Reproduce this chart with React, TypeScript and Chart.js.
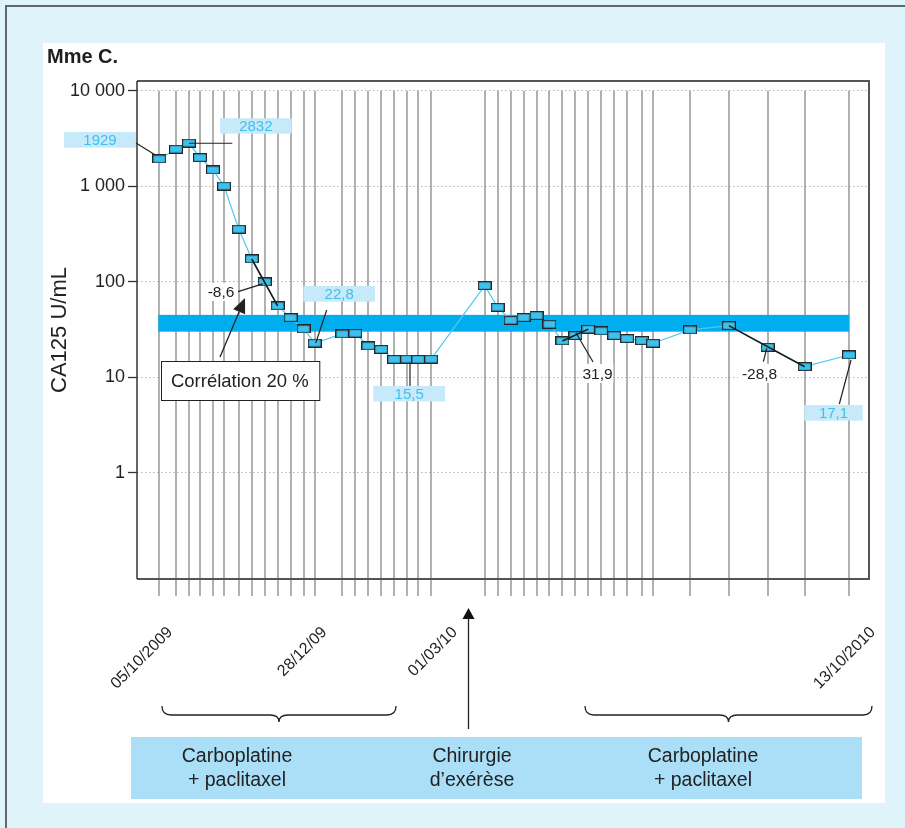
import { useEffect, useRef } from 'react';
import { Chart, registerables } from 'chart.js';

Chart.register(...registerables);

// CA125 sampling dates (dd/mm/yyyy)
const sampleDates = [
  '05/10/2009', '14/10/2009', '21/10/2009', '27/10/2009', '03/11/2009', '09/11/2009', '17/11/2009',
  '24/11/2009', '01/12/2009', '08/12/2009', '15/12/2009', '22/12/2009', '28/12/2009',
  '12/01/2010', '19/01/2010', '26/01/2010', '02/02/2010', '09/02/2010', '16/02/2010', '22/02/2010', '01/03/2010',
  '30/03/2010', '06/04/2010', '13/04/2010', '20/04/2010', '27/04/2010', '04/05/2010', '11/05/2010',
  '18/05/2010', '25/05/2010', '01/06/2010', '08/06/2010', '15/06/2010', '23/06/2010', '29/06/2010',
  '19/07/2010', '09/08/2010', '30/08/2010', '19/09/2010', '13/10/2010',
];

// CA125 in U/mL, one value per sample
const ca125 = [
  1929, 2440, 2832, 1990, 1480, 1005, 355, 173, 99.5, 55.8, 42, 32, 22.8,
  28.4, 28.9, 21.3, 19.6, 15.4, 15.5, 15.4, 15.5,
  91, 54, 39.5, 42.1, 44.2, 35.9, 24, 27.3, 31.9, 30.5, 27.3, 25.4, 24.2, 22.7,
  31.3, 34.7, 20.6, 12.9, 17.1,
];

// Dates printed under the axis, and the sample each one belongs to
const axisDateIndex = [0, 12, 20, 39];
const axisDateText = ['05/10/2009', '28/12/09', '01/03/10', '13/10/2010'];

// Logarithmic axis
const yTickValues = [1, 10, 100, 1000, 10000];
const yTickText = ['1', '10', '100', '1 000', '10 000'];

// Normal range drawn as a band across the follow-up
const normalBand = [30, 45];

// Kinetic segments (first / last sample) and their slope
const slopeFrom = [7, 27, 36];
const slopeTo = [9, 29, 38];
const slopeText = ['-8,6', '31,9', '-28,8'];

// Samples whose value is written next to them
const valueIndex = [0, 2, 12, 18, 39];

// Treatment sequence
const phaseText = [
  ['Carboplatine', '+ paclitaxel'],
  ['Chirurgie', 'd’exérèse'],
  ['Carboplatine', '+ paclitaxel'],
];
const correlationText = 'Corrélation 20 %';
const patientText = 'Mme C.';
const yTitle = 'CA125 U/mL';

// ---- layout ----
const FONT = '"Liberation Sans", Arial, Helvetica, sans-serif';
const W = 905;
const H = 828;
const AREA = { left: 137, right: 869, top: 81, bottom: 579 };
const X_MIN = -12.06;
const X_MAX = 383.8;
const Y_MIN = 0.0772;
const Y_MAX = 12637;

// callout boxes: [dx, dy, w, h] from the sample, leader endpoints as offsets
const valueLayout = [
  { box: [-95.3, -27, 72, 15.7], leader: [[-23.3, -16], [-4, -4]] },
  { box: [31.1, -24.8, 71.7, 15.4], leader: [[0, 0.2], [43.4, 0.2]] },
  { box: [-11.3, -57.1, 71.7, 15.7], leader: [[12.1, -33.1], [1.1, 0]] },
  { box: [-33.8, 26.9, 71.7, 15.5], leader: [[2.9, 4.5], [2.9, 26.9]] },
  { box: [-44.7, 50, 58.4, 15.7], leader: [[2, 5], [-9.7, 49]] },
];
const slopeLayout = [
  { box: [-59.7, 1, 32, 18], leader: [[-26.7, 9.7], [-2, 2]] },
  { box: [6.4, 28.4, 31.6, 19], leader: [[17.7, 26.4], [0.7, -2.6]] },
  { box: [-29.6, 16.7, 43, 19], leader: [[-4.3, 14.4], [-0.9, 1]] },
];
const correlationLayout = { box: [-104, 79, 158.3, 39], arrow: [[-44.7, 75], [-19.7, 16]] };
const dateNudge = [14, 13, 27, 27];
const phaseCenters = [237, 472, 703];

function dayOf(s: string): number {
  const [d, m, y] = s.split('/').map(Number);
  const [d0, m0, y0] = sampleDates[0].split('/').map(Number);
  return Math.round((Date.UTC(y, m - 1, d) - Date.UTC(y0, m0 - 1, d0)) / 86400000);
}

const days = sampleDates.map(dayOf);
const fmt = (v: number) => String(v).replace('.', ',');

function makeMarker(): HTMLCanvasElement {
  const c = document.createElement('canvas');
  c.width = 14;
  c.height = 9;
  const g = c.getContext('2d')!;
  g.fillStyle = '#3cc2ee';
  g.fillRect(1, 1, 12, 7);
  g.strokeStyle = '#262626';
  g.lineWidth = 1.2;
  g.strokeRect(0.6, 0.6, 12.8, 7.8);
  return c;
}

function polyline(ctx: CanvasRenderingContext2D, pts: number[][]) {
  ctx.beginPath();
  ctx.moveTo(pts[0][0], pts[0][1]);
  for (let i = 1; i < pts.length; i++) ctx.lineTo(pts[i][0], pts[i][1]);
  ctx.stroke();
}

function arrow(ctx: CanvasRenderingContext2D, x0: number, y0: number, x1: number, y1: number, len: number, half: number) {
  const ang = Math.atan2(y1 - y0, x1 - x0);
  const bx = x1 - len * Math.cos(ang);
  const by = y1 - len * Math.sin(ang);
  polyline(ctx, [[x0, y0], [bx, by]]);
  ctx.beginPath();
  ctx.moveTo(x1, y1);
  ctx.lineTo(bx + half * Math.sin(ang), by - half * Math.cos(ang));
  ctx.lineTo(bx - half * Math.sin(ang), by + half * Math.cos(ang));
  ctx.closePath();
  ctx.fill();
}

function brace(ctx: CanvasRenderingContext2D, x0: number, x1: number, yTop: number, yFlat: number, yTip: number) {
  const xc = (x0 + x1) / 2;
  const r = 9;
  ctx.beginPath();
  ctx.moveTo(x0, yTop);
  ctx.quadraticCurveTo(x0, yFlat, x0 + r, yFlat);
  ctx.lineTo(xc - r, yFlat);
  ctx.quadraticCurveTo(xc, yFlat, xc, yTip);
  ctx.quadraticCurveTo(xc, yFlat, xc + r, yFlat);
  ctx.lineTo(x1 - r, yFlat);
  ctx.quadraticCurveTo(x1, yFlat, x1, yTop);
  ctx.stroke();
}

const pagePlugin = {
  id: 'caPage',
  beforeDraw(chart: any) {
    const ctx: CanvasRenderingContext2D = chart.ctx;
    ctx.save();
    ctx.fillStyle = '#dff3fb';
    ctx.fillRect(0, 0, W, H);
    ctx.strokeStyle = '#666';
    ctx.lineWidth = 2;
    polyline(ctx, [[6, H], [6, 6], [W, 6]]);
    ctx.fillStyle = '#ffffff';
    ctx.fillRect(43, 43, 842, 760);
    ctx.restore();
  },
  beforeDatasetsDraw(chart: any) {
    const ctx: CanvasRenderingContext2D = chart.ctx;
    const a = chart.chartArea;
    const { x, y } = chart.scales;
    const top = y.getPixelForValue(yTickValues[yTickValues.length - 1]);
    ctx.save();
    // one vertical line per sample
    ctx.strokeStyle = '#9d9d9d';
    ctx.lineWidth = 1.6;
    days.forEach((d) => {
      const px = Math.round(x.getPixelForValue(d));
      polyline(ctx, [[px, top], [px, a.bottom + 17]]);
    });
    // normal range band
    const bx0 = x.getPixelForValue(days[0]) - 1;
    const bx1 = x.getPixelForValue(days[days.length - 1]);
    const by0 = y.getPixelForValue(normalBand[1]);
    const by1 = y.getPixelForValue(normalBand[0]);
    ctx.fillStyle = '#00aeef';
    ctx.fillRect(bx0, by0, bx1 - bx0, by1 - by0);
    // plot frame
    ctx.strokeStyle = '#555';
    ctx.lineWidth = 2;
    polyline(ctx, [[a.left, a.top], [a.right, a.top], [a.right, a.bottom], [a.left, a.bottom]]);
    ctx.strokeStyle = '#333';
    ctx.lineWidth = 1.5;
    polyline(ctx, [[a.left, a.top], [a.left, a.bottom]]);
    ctx.restore();
  },
  afterDatasetsDraw(chart: any) {
    const ctx: CanvasRenderingContext2D = chart.ctx;
    const { x, y } = chart.scales;
    const at = (i: number) => ({ x: x.getPixelForValue(days[i]), y: y.getPixelForValue(ca125[i]) });
    ctx.save();
    ctx.lineWidth = 1.2;
    ctx.strokeStyle = '#222';
    ctx.textAlign = 'center';
    ctx.textBaseline = 'alphabetic';

    // written values
    valueIndex.forEach((idx, k) => {
      const p = at(idx);
      const { box, leader } = valueLayout[k];
      const [dx, dy, w, h] = box;
      ctx.fillStyle = '#c6eaf9';
      ctx.fillRect(p.x + dx, p.y + dy, w, h);
      ctx.fillStyle = '#3ec0ee';
      ctx.font = `15px ${FONT}`;
      ctx.fillText(fmt(ca125[idx]), p.x + dx + w / 2, p.y + dy + h - 2.5);
      polyline(ctx, leader.map(([lx, ly]) => [p.x + lx, p.y + ly]));
    });

    // slopes
    slopeText.forEach((t, k) => {
      const p = at((slopeFrom[k] + slopeTo[k]) / 2);
      const { box, leader } = slopeLayout[k];
      const [dx, dy, w, h] = box;
      ctx.fillStyle = '#ffffff';
      ctx.fillRect(p.x + dx, p.y + dy, w, h);
      ctx.fillStyle = '#222';
      ctx.font = `15.5px ${FONT}`;
      ctx.fillText(t, p.x + dx + w / 2, p.y + dy + h - 4);
      polyline(ctx, leader.map(([lx, ly]) => [p.x + lx, p.y + ly]));
    });

    // correlation callout
    const c = at((slopeFrom[0] + slopeTo[0]) / 2);
    const [cx, cy, cw, ch] = correlationLayout.box;
    ctx.fillStyle = '#ffffff';
    ctx.fillRect(c.x + cx, c.y + cy, cw, ch);
    ctx.lineWidth = 1;
    ctx.strokeRect(Math.round(c.x + cx) + 0.5, Math.round(c.y + cy) + 0.5, cw, ch);
    ctx.fillStyle = '#222';
    ctx.font = `18.5px ${FONT}`;
    ctx.fillText(correlationText, c.x + cx + cw / 2, c.y + cy + 26);
    const [[ax0, ay0], [ax1, ay1]] = correlationLayout.arrow;
    ctx.lineWidth = 1.3;
    arrow(ctx, c.x + ax0, c.y + ay0, c.x + ax1, c.y + ay1, 15, 6.5);
    ctx.restore();
  },
  afterDraw(chart: any) {
    const ctx: CanvasRenderingContext2D = chart.ctx;
    const a = chart.chartArea;
    const { x } = chart.scales;
    ctx.save();
    ctx.fillStyle = '#1e1e1e';
    ctx.font = `bold 20px ${FONT}`;
    ctx.textAlign = 'left';
    ctx.textBaseline = 'alphabetic';
    ctx.fillText(patientText, 47, 63);

    // dates under the axis
    ctx.fillStyle = '#222';
    ctx.font = `16px ${FONT}`;
    ctx.textAlign = 'right';
    axisDateIndex.forEach((idx, k) => {
      const px = x.getPixelForValue(days[idx]) + dateNudge[k];
      ctx.save();
      ctx.translate(px, a.bottom + 54);
      ctx.rotate(-Math.PI / 4);
      ctx.fillText(axisDateText[k], 0, 0);
      ctx.restore();
    });

    // treatment braces and surgery arrow
    ctx.strokeStyle = '#222';
    ctx.lineWidth = 1.3;
    brace(ctx, 162, 396, 706, 715, 722);
    brace(ctx, 585, 872, 706, 715, 722);
    ctx.fillStyle = '#111';
    arrow(ctx, 468.5, 729, 468.5, 608, 11, 6);

    // treatment sequence
    ctx.fillStyle = '#aadff7';
    ctx.fillRect(131, 737, 731, 62);
    ctx.fillStyle = '#222';
    ctx.font = `19.5px ${FONT}`;
    ctx.textAlign = 'center';
    phaseText.forEach((lines, k) => {
      ctx.fillText(lines[0], phaseCenters[k], 762);
      ctx.fillText(lines[1], phaseCenters[k], 786);
    });
    ctx.restore();
  },
};

export default function App() {
  const ref = useRef<HTMLCanvasElement>(null);

  useEffect(() => {
    const canvas = ref.current;
    if (!canvas) return;
    const marker = makeMarker();
    const points = days.map((d, i) => ({ x: d, y: ca125[i] }));
    const slopeSets = slopeFrom.map((f, k) => ({
      data: [points[f], points[slopeTo[k]]],
      borderColor: '#1b1b1b',
      borderWidth: 1.6,
      pointRadius: 0,
      tension: 0,
      order: 1,
    }));

    const chart = new Chart(canvas, {
      type: 'line',
      data: {
        datasets: [
          {
            data: points,
            borderColor: '#55c6f0',
            borderWidth: 1.2,
            pointStyle: marker as any,
            pointRadius: 7,
            pointHoverRadius: 7,
            tension: 0,
            order: 2,
          },
          ...slopeSets,
        ] as any,
      },
      options: {
        responsive: false,
        maintainAspectRatio: false,
        animation: false,
        events: [],
        layout: { padding: { left: 40, right: W - AREA.right, top: AREA.top, bottom: H - AREA.bottom } },
        plugins: { legend: { display: false }, tooltip: { enabled: false } },
        scales: {
          x: { type: 'linear', display: false, min: X_MIN, max: X_MAX },
          y: {
            type: 'logarithmic',
            min: Y_MIN,
            max: Y_MAX,
            bounds: 'data',
            afterFit: (s: any) => {
              s.width = AREA.left - 40;
            },
            afterBuildTicks: (s: any) => {
              s.ticks = yTickValues.map((v) => ({ value: v }));
            },
            ticks: {
              autoSkip: false,
              padding: 3,
              color: '#222',
              font: { family: FONT, size: 18 },
              callback: (v: any) => yTickText[yTickValues.indexOf(Number(v))] ?? '',
            },
            grid: {
              color: '#b4b4b4',
              lineWidth: 1,
              tickLength: 9,
              tickColor: '#333',
              tickWidth: 1.3,
              tickBorderDash: [],
            },
            border: { display: false, dash: [1.5, 2.5] },
            title: {
              display: true,
              text: yTitle,
              color: '#222',
              font: { family: FONT, size: 22 },
              padding: { top: 7, bottom: 0 },
            },
          } as any,
        },
      },
      plugins: [pagePlugin],
    });
    return () => chart.destroy();
  }, []);

  return (
    <div style={{ position: 'absolute', left: 0, top: 0, width: W, height: H }}>
      <canvas ref={ref} width={W} height={H} style={{ display: 'block', width: W, height: H }} />
    </div>
  );
}
